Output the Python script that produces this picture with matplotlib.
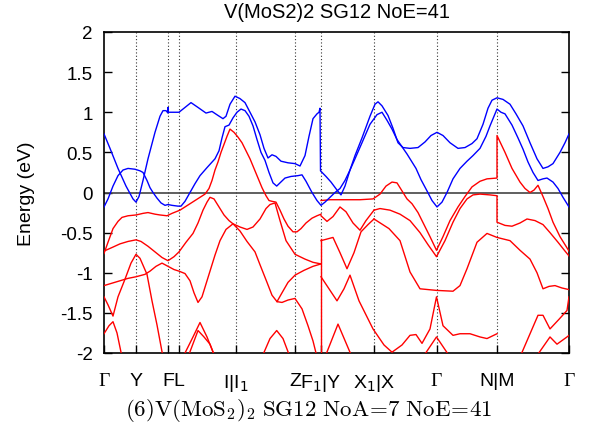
import matplotlib
matplotlib.use('Agg')
import matplotlib.pyplot as plt
from matplotlib.ticker import FixedLocator, FixedFormatter

plt.rcParams['font.family'] = ['Liberation Sans', 'DejaVu Sans']
plt.rcParams['axes.unicode_minus'] = False

# ---- data ----------------------------------------------------------
title = "V(MoS2)2 SG12 NoE=41"
caption = r"$\mathrm{(6)V(MoS_2)_2\ SG12\ NoA\!=\!7\ NoE\!=\!41}$"
ylabel = "Energy (eV)"

kpath_ticks = [0, 32, 64, 75, 132, 191, 217, 270, 332.5, 393, 465]
kpath_labels = ['Γ', 'Y', 'F', 'L', 'I|I$_1$', 'Z', 'F$_1$|Y', 'X$_1$|X', 'Γ', 'N|M', 'Γ']
energy_ticks = [2, 1.5, 1, 0.5, 0, -0.5, -1, -1.5, -2]
energy_tick_labels = ['2', '1.5', '1', '0.5', '0', '-0.5', '-1', '-1.5', '-2']

# conduction bands (k, E)
cb1 = [(0, 0.73), (6, 0.55), (14, 0.30), (22, 0.08), (29, -0.08), (32, -0.12), (35, -0.05),
       (39, 0.15), (44, 0.42), (51, 0.75), (56, 0.95), (59, 1.02), (62, 1.02), (64, 0.99),
       (64, 1.06), (64.4, 1.0), (68, 1.0), (75, 1.0), (81, 1.06), (87, 1.12), (94, 1.06),
       (102, 0.99), (108, 1.01), (114, 0.96), (119, 0.92), (122, 0.95), (126, 1.1), (131, 1.20),
       (136, 1.17), (141, 1.12), (146, 1.0), (151, 0.88), (156, 0.72), (160, 0.55), (164, 0.43),
       (168, 0.47), (172, 0.45), (177, 0.39), (184, 0.37), (191, 0.36), (196, 0.33), (201, 0.46),
       (205, 0.70), (209, 0.92), (213, 0.98), (215, 1.0), (216, 1.05), (216.5, 0.27), (222, 0.20),
       (227, 0.13), (233, 0.03), (237, -0.03), (241, 0.08), (246, 0.28), (251, 0.46), (258, 0.68),
       (266, 0.95), (271, 1.10), (274, 1.13), (278, 1.08), (284, 0.96), (289, 0.80), (294, 0.62),
       (299, 0.56), (306, 0.55), (314, 0.56), (321, 0.63), (327, 0.71), (333, 0.75), (339, 0.71),
       (346, 0.62), (354, 0.55), (361, 0.56), (368, 0.61), (373, 0.67), (379, 0.85), (384, 1.05),
       (388, 1.15), (393, 1.18), (399, 1.16), (406, 1.10), (412, 0.98), (419, 0.83), (426, 0.62),
       (433, 0.42), (439, 0.30), (444, 0.32), (449, 0.36), (456, 0.50), (461, 0.62), (465, 0.73)]
cb2 = [(0, -0.18), (4, -0.08), (9, 0.08), (14, 0.21), (19, 0.28), (24, 0.30), (31, 0.29),
       (36, 0.27), (39, 0.25), (43, 0.15), (46, 0.06), (49, 0.0), (53, -0.07), (57, -0.13),
       (61, -0.16), (64, -0.15), (68, -0.16), (74, -0.17), (77, -0.17), (81, -0.11), (86, 0.0),
       (91, 0.11), (96, 0.21), (103, 0.31), (111, 0.42), (115, 0.52), (118, 0.68), (121, 0.82),
       (125, 0.84), (129, 0.93), (133, 1.0), (137, 1.04), (141, 1.02), (145, 0.95), (149, 0.83),
       (153, 0.66), (157, 0.50), (161, 0.40), (165, 0.25), (169, 0.12), (172.7, 0.08), (176, 0.12),
       (181, 0.18), (187, 0.20), (194, 0.21), (198, 0.22), (202, 0.14), (208, 0.0), (213, -0.10),
       (217, -0.16), (221, -0.12), (226, -0.06), (231, 0.0), (236, 0.05), (241, 0.15), (246, 0.28),
       (251, 0.42), (258, 0.62), (266, 0.85), (273, 0.97), (278, 1.0), (283, 0.9), (288, 0.79),
       (293, 0.66), (298, 0.57), (303, 0.48), (307, 0.40), (312, 0.30), (317, 0.16), (323, 0.02),
       (328, -0.10), (333, -0.18), (338, -0.12), (343, 0.0), (349, 0.17), (356, 0.30), (363, 0.39),
       (369, 0.46), (376, 0.55), (382, 0.70), (386, 0.83), (390, 0.95), (393, 1.04), (397, 1.0),
       (401, 0.98), (408, 0.84), (414, 0.68), (419, 0.54), (424, 0.38), (429, 0.25), (434, 0.15),
       (439, 0.17), (443, 0.18), (449, 0.13), (454, 0.05), (459, -0.06), (465, -0.18)]

# valence bands (k, E)
vb1 = [(0, -0.76), (4, -0.62), (9, -0.45), (14, -0.36), (18, -0.31), (24, -0.29), (32, -0.28),
       (39, -0.26), (44, -0.25), (51, -0.27), (56, -0.28), (63, -0.29), (68, -0.26), (76, -0.22),
       (81, -0.18), (86, -0.14), (91, -0.10), (96, -0.06), (101, -0.02), (105, 0.05), (108, 0.15),
       (111, 0.28), (114, 0.38), (117, 0.50), (120, 0.60), (123, 0.70), (126, 0.79), (130, 0.75),
       (134, 0.69), (138, 0.62), (142, 0.52), (146, 0.42), (150, 0.30), (154, 0.18), (158, 0.06),
       (162, -0.04), (165, -0.10), (168, -0.11), (172, -0.12), (176, -0.22), (180, -0.33),
       (184, -0.42), (189, -0.49), (193, -0.49), (197, -0.45), (202, -0.38), (208, -0.32),
       (213, -0.29), (217, -0.27)]
vb2 = [(0, -0.73), (9, -0.68), (16, -0.64), (24, -0.61), (32, -0.59), (37, -0.61), (44, -0.67),
       (52, -0.75), (58, -0.81), (64, -0.85), (70, -0.80), (75, -0.74), (82, -0.62), (89, -0.51),
       (94, -0.38), (99, -0.22), (103, -0.12), (106, -0.06), (110, -0.08), (115, -0.18),
       (120, -0.28), (125, -0.35), (129, -0.39), (136, -0.43), (143, -0.46), (149, -0.43),
       (156, -0.33), (162, -0.20), (166, -0.15), (171, -0.13), (176, -0.35), (182, -0.60),
       (191, -0.77), (201, -0.83), (209, -0.87), (217, -0.89)]
vb3 = [(0, -1.16), (8, -1.13), (16, -1.10), (24, -1.07), (32, -1.05), (41, -1.02), (46, -0.98),
       (52, -0.92), (58, -0.88), (64, -0.92), (70, -0.96), (75, -0.98), (81, -1.01), (86, -1.10),
       (90, -1.25), (94, -1.37), (98, -1.30), (102, -1.14), (106, -0.98), (111, -0.78),
       (116, -0.60), (122, -0.46), (129, -0.39), (136, -0.48), (143, -0.61), (151, -0.74),
       (156, -0.90), (163, -1.12), (168, -1.28), (173, -1.36), (178, -1.37), (184, -1.34),
       (191, -1.32), (198, -1.45), (204, -1.66), (209, -1.85), (213, -2.05)]
vb4 = [(0, -1.30), (4, -1.40), (9, -1.54), (14, -1.30), (21, -1.08), (27, -0.88), (32, -0.77),
       (36, -0.82), (43, -1.02), (48, -1.35), (53, -1.65), (59, -2.05)]
vb5 = [(0, -1.76), (5, -1.66), (9, -1.61), (13, -1.75), (18, -2.05)]
vb6 = [(79, -2.05), (89, -1.80), (96, -1.62), (103, -1.80), (111, -2.05)]
vb7 = [(84, -2.05), (94, -1.72), (100, -1.80), (106, -1.89), (111, -2.05)]
vb8 = [(173, -1.36), (178, -1.25), (184, -1.12), (191, -1.03), (200, -0.97), (209, -0.92),
       (217, -0.89)]
vb9 = [(158, -2.05), (166, -1.82), (172.7, -1.72), (179, -1.82), (186, -2.05)]
vb10 = [(217, -0.58), (217, -2.05)]
vb11 = [(217, -0.10), (226, -0.09), (241, -0.09), (256, -0.09), (269, -0.08), (276, -0.02),
        (282, 0.08), (288, 0.13), (293, 0.12), (298, 0.02), (303, -0.08), (308, -0.14),
        (314, -0.25), (320, -0.40), (326, -0.55), (332.5, -0.72), (339, -0.55), (346, -0.35),
        (354, -0.18), (361, -0.05), (368, 0.07), (376, 0.14), (383, 0.17), (393, 0.18), (393, 0.71),
        (401, 0.50), (408, 0.30), (416, 0.13), (421, 0.05), (426, 0.0), (430, 0.03), (434, 0.09),
        (439, -0.05), (444, -0.20), (449, -0.37), (456, -0.55), (465, -0.73)]
vb12 = [(270, -0.22), (276, -0.20), (286, -0.22), (296, -0.27), (306, -0.35), (316, -0.50),
        (324, -0.65), (332.5, -0.80), (341, -0.60), (349, -0.37), (356, -0.20), (363, -0.08),
        (369, -0.03), (376, -0.02), (386, -0.03), (393, -0.04), (393, -0.37), (401, -0.41),
        (408, -0.42), (416, -0.38), (423, -0.33), (431, -0.35), (439, -0.40), (446, -0.50),
        (454, -0.62), (461, -0.73), (465, -0.79)]
vb13 = [(270, -0.33), (285, -0.45), (296, -0.60), (306, -0.99), (316, -1.20), (332.5, -1.22),
        (349, -1.23), (356, -1.16), (363, -0.95), (373, -0.62), (383, -0.51), (393, -0.56),
        (406, -0.60), (416, -0.72), (426, -0.83), (433, -1.00), (439, -1.20), (445, -1.17),
        (451, -1.16), (458, -1.19), (465, -1.21)]
vb14 = [(217, -0.29), (223, -0.36), (229, -0.30), (236, -0.18), (242, -0.24), (249, -0.38),
        (256, -0.47), (262, -0.35), (270, -0.22)]
vb15 = [(217, -0.60), (223, -0.58), (229, -0.56), (236, -0.75), (243, -0.95), (250, -0.75),
        (257, -0.49), (264, -0.40), (270, -0.33)]
vb16 = [(217, -1.05), (225, -1.20), (233, -1.35), (240, -1.20), (246, -1.03), (255, -1.35),
        (269, -1.70), (280, -1.90), (288, -1.99), (298, -1.90), (306, -1.78), (312, -1.77),
        (318, -1.88), (326, -1.70), (332.5, -1.30), (339, -1.66), (349, -1.78), (356, -1.76),
        (366, -1.76), (376, -1.80), (383, -1.82), (393, -1.76)]
vb17 = [(221, -2.05), (234, -1.64), (248, -2.05)]
vb18 = [(319, -2.05), (332.5, -1.80), (346, -2.05)]
vb19 = [(416, -2.05), (434, -1.53), (439, -1.53), (446, -1.70), (455, -1.58), (463, -1.47),
        (465, -1.30)]
vb20 = [(432, -2.05), (446, -1.80), (453, -1.89), (463, -1.80), (465, -1.78)]

conduction_bands = [cb1, cb2]
valence_bands = [vb1, vb2, vb3, vb4, vb5, vb6, vb7, vb8, vb9, vb10, vb11, vb12, vb13, vb14,
                 vb15, vb16, vb17, vb18, vb19, vb20]

# ---- figure --------------------------------------------------------
fig = plt.figure(figsize=(5.91, 4.35), dpi=100)
ax = fig.add_axes([104 / 591, 1 - 354 / 435, 465 / 591, 321 / 435])

for band in valence_bands:
    ks, es = zip(*band)
    ax.plot(ks, es, color='#ff0000', lw=1.0, zorder=3)
for band in conduction_bands:
    ks, es = zip(*band)
    ax.plot(ks, es, color='#0000ff', lw=1.0, zorder=3)

for k in kpath_ticks[1:-1]:
    ax.axvline(k, color='#333333', lw=0.8, ls=(0, (1, 2)), zorder=1)
ax.axhline(0, color='#444444', lw=1.2, zorder=2)

ax.set_xlim(kpath_ticks[0], kpath_ticks[-1])
ax.set_ylim(-2, 2)
ax.xaxis.set_major_locator(FixedLocator(kpath_ticks))
ax.xaxis.set_major_formatter(FixedFormatter(kpath_labels))
ax.yaxis.set_major_locator(FixedLocator(energy_ticks))
ax.yaxis.set_major_formatter(FixedFormatter(energy_tick_labels))
ax.tick_params(axis='y', direction='in', length=6, width=1, left=True, right=True,
               labelsize=13.5, pad=8)
ax.tick_params(axis='x', direction='in', length=6, width=1, bottom=True, top=False,
               labelsize=14, pad=14)
for lbl in ax.get_xticklabels():
    if lbl.get_text() == 'Γ':
        lbl.set_fontfamily(['Liberation Serif', 'DejaVu Serif'])
for sp in ax.spines.values():
    sp.set_linewidth(1.2)

ax.set_ylabel(ylabel, fontsize=14, labelpad=18)
fig.text(336.5 / 591, 1 - 12 / 435, title, ha='center', va='center', fontsize=14.5)
fig.text(308.5 / 591, 1 - 411 / 435, caption, ha='center', va='center', fontsize=16.5,
         math_fontfamily='cm')

fig.savefig('out.png', dpi=100)
